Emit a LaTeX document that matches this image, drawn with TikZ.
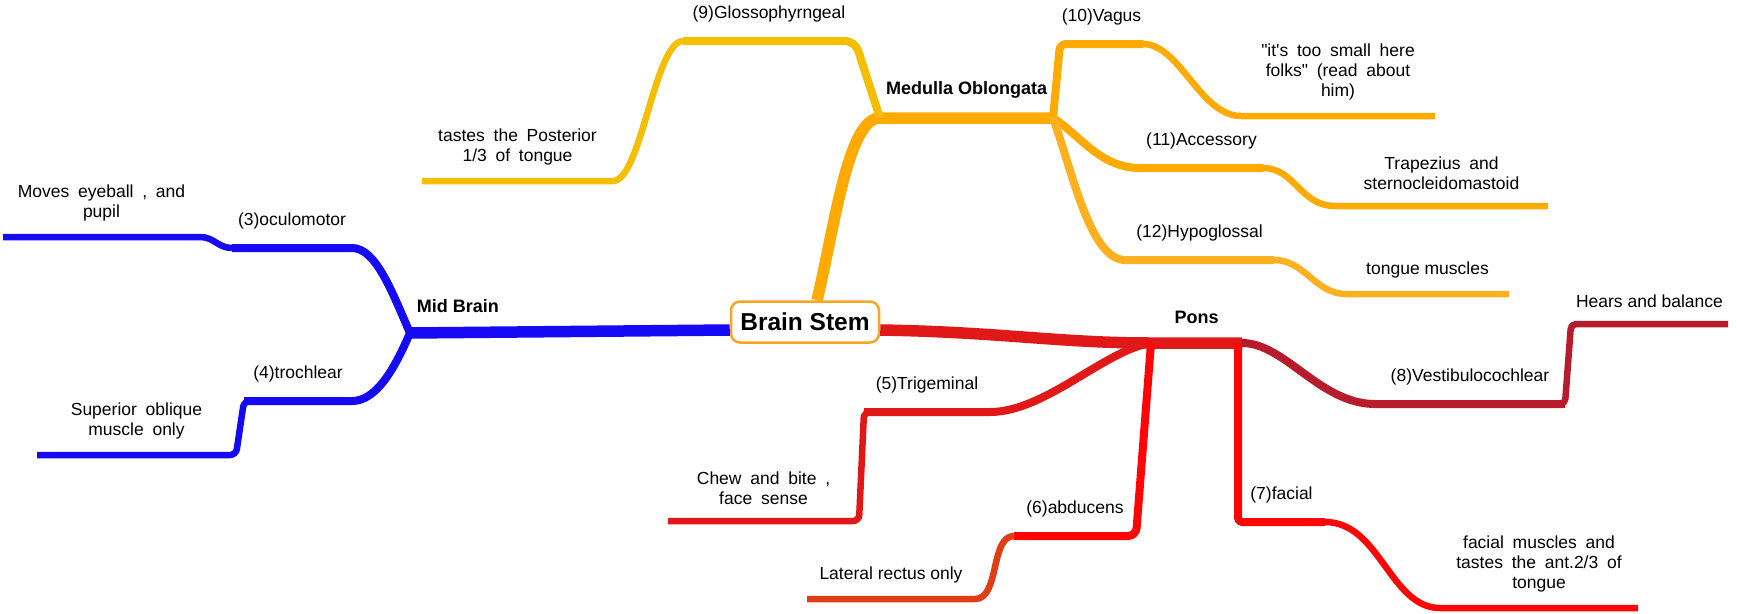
\documentclass[tikz,border=0pt]{standalone}
\usepackage{fontspec}
\setmainfont{Liberation Sans}[Ligatures=TeXOff]
\usetikzlibrary{positioning,calc}

\definecolor{mbblue}{RGB}{22,10,245}
\definecolor{mdorange}{RGB}{255,170,0}
\definecolor{glyellow}{RGB}{245,190,0}
\definecolor{hyorange}{RGB}{255,176,30}
\definecolor{ponsred}{RGB}{224,24,24}
\definecolor{brightred}{RGB}{255,5,5}
\definecolor{rustred}{RGB}{224,60,22}
\definecolor{darkred}{RGB}{183,28,44}
\definecolor{boxorange}{RGB}{245,166,35}

\newcommand{\widespace}{\spaceskip=0.5em plus 0.1em\relax}

\begin{document}
\begin{tikzpicture}[x=1pt, y=-1pt,
    stem/.style={rectangle, draw=boxorange, line width=2.5pt, rounded corners=9pt, fill=white,
        minimum width=148pt, minimum height=41pt, inner sep=4pt, font=\fontsize{24.5}{28}\selectfont\bfseries},
    main/.style={line width=11.5pt, line join=round},
    branch/.style={line width=8pt, line join=round},
    leaf/.style={line width=6.5pt, line join=round},
    lbl/.style={text=black, font=\fontsize{17.5}{20}\selectfont, inner sep=2pt, above=13pt},
    note/.style={text=black, font=\fontsize{17.5}{20}\selectfont, inner sep=2pt, align=center, above=11pt},
    wide/.style={note, execute at begin node=\widespace},
    part/.style={text=black, font=\fontsize{18}{21}\selectfont\bfseries, inner sep=2pt, above=12pt}
]
    \useasboundingbox (0,0) rectangle (1737,613);

    \node[stem] (stem) at (805,322) {Brain Stem};

    % mid brain
    \coordinate (mb) at (410,333);
    \coordinate (oc1) at (352,248);
    \coordinate (oc0) at (232,248);
    \coordinate (mv1) at (200,237);
    \coordinate (mv0) at (3,237);
    \coordinate (tr1) at (352,401);
    \coordinate (tr0) at (244,401);
    \coordinate (so1) at (236,455);
    \coordinate (so0) at (37,455);

    \draw[main, mbblue] (mb) -- node[part, pos=0.15] (mbl) {Mid Brain} ($(stem.west)+(0,8)$);
    \draw[branch, mbblue] (mb) .. controls (392,292) and (376,248) .. (oc1)
        -- node[lbl] (ocl) {(3)oculomotor} (oc0);
    \draw[leaf, mbblue] (oc0) .. controls (218,248) and (214,237) .. (mv1)
        -- node[wide] (mvl) {Moves eyeball , and\\pupil} (mv0);
    \draw[branch, mbblue] (mb) .. controls (394,370) and (376,401) .. (tr1)
        -- node[lbl] (trl) {(4)trochlear} (tr0);
    \draw[leaf, mbblue, rounded corners=6pt] ($(tr0)+(8,0)$) -- (tr0) -- (so1)
        -- node[wide] (sol) {Superior oblique\\muscle only} (so0);

    % pons
    \coordinate (pn) at (1151,343);
    \coordinate (pr) at (1242,343);
    \coordinate (tg1) at (990,412);
    \coordinate (tg0) at (864,412);
    \coordinate (cb1) at (859,521);
    \coordinate (cb0) at (668,521);
    \coordinate (ab1) at (1136,536);
    \coordinate (ab0) at (1014,536);
    \coordinate (lr1) at (975,599);
    \coordinate (lr0) at (807,599);
    \coordinate (fc1) at (1238,522);
    \coordinate (fc2) at (1325,522);
    \coordinate (fm1) at (1440,608);
    \coordinate (fm0) at (1638,608);
    \coordinate (vs0) at (1375,404);
    \coordinate (vs1) at (1565,404);
    \coordinate (hb1) at (1571,324);
    \coordinate (hb0) at (1728,324);

    \draw[main, ponsred] ($(stem.east)+(0,8)$) .. controls (1000,332) and (1060,343) .. (pn)
        -- node[part] (pnl) {Pons} (pr);
    \draw[branch, ponsred] (pn) .. controls (1105,350) and (1045,412) .. (tg1)
        -- node[lbl] (tgl) {(5)Trigeminal} (tg0);
    \draw[leaf, ponsred, rounded corners=6pt] ($(tg0)+(8,0)$) -- (tg0) -- (cb1)
        -- node[wide] (cbl) {Chew and bite ,\\face sense} (cb0);
    \draw[branch, brightred, rounded corners=8pt] (pn) -- (ab1)
        -- node[lbl] (abl) {(6)abducens} (ab0);
    \draw[leaf, rustred] (ab0) .. controls (990,536) and (1000,599) .. (lr1)
        -- node[note] (lrl) {Lateral rectus only} (lr0);
    \draw[branch, brightred, rounded corners=4pt] (fc1 |- pn) -- (fc1)
        -- node[lbl] (fcl) {(7)facial} (fc2);
    \draw[leaf, brightred] (fc2) .. controls (1380,522) and (1390,608) .. (fm1)
        -- node[wide] (fml) {facial muscles and\\tastes the ant.2/3 of\\tongue} (fm0);
    \draw[branch, darkred] (pr) .. controls (1285,343) and (1320,404) .. (vs0)
        -- node[lbl] (vsl) {(8)Vestibulocochlear} (vs1);
    \draw[leaf, darkred, rounded corners=5pt] ($(vs1)+(-8,0)$) -- (vs1) -- (hb1)
        -- node[note] (hbl) {Hears and balance} (hb0);

    % medulla oblongata
    \coordinate (md0) at (880,118);
    \coordinate (md1) at (1053,118);
    \coordinate (gl1) at (855,41);
    \coordinate (gl0) at (683,41);
    \coordinate (tp1) at (613,181);
    \coordinate (tp0) at (422,181);
    \coordinate (va0) at (1060,44);
    \coordinate (va1) at (1143,44);
    \coordinate (it1) at (1241,116);
    \coordinate (it0) at (1435,116);
    \coordinate (ac0) at (1140,168);
    \coordinate (ac1) at (1263,168);
    \coordinate (tz1) at (1335,206);
    \coordinate (tz0) at (1548,206);
    \coordinate (hy0) at (1125,260);
    \coordinate (hy1) at (1274,260);
    \coordinate (tm1) at (1346,294);
    \coordinate (tm0) at (1509,294);

    \draw[main, mdorange] ($(stem.north)+(12,0)$) .. controls (835,225) and (848,118) .. (md0)
        -- node[part] (mdl) {Medulla Oblongata} (md1);
    \draw[branch, glyellow, rounded corners=10pt] (md0) -- (gl1)
        -- node[lbl] (gll) {(9)Glossophyrngeal} (gl0);
    \draw[leaf, glyellow] (gl0) .. controls (655,41) and (641,181) .. (tp1)
        -- node[wide] (tpl) {tastes the Posterior\\1/3 of tongue} (tp0);
    \draw[branch, mdorange, rounded corners=6pt] (md1) -- (va0)
        -- node[lbl] (val) {(10)Vagus} (va1);
    \draw[leaf, mdorange] (va1) .. controls (1180,44) and (1200,116) .. (it1)
        -- node[wide] (itl) {"it's too small here\\folks" (read about\\him)} (it0);
    \draw[branch, mdorange] (md1) .. controls (1080,135) and (1100,168) .. (ac0)
        -- node[lbl] (acl) {(11)Accessory} (ac1);
    \draw[leaf, mdorange] (ac1) .. controls (1295,168) and (1300,206) .. (tz1)
        -- node[wide] (tzl) {Trapezius and\\sternocleidomastoid} (tz0);
    \draw[branch, hyorange] (md1) .. controls (1072,170) and (1090,260) .. (hy0)
        -- node[lbl] (hyl) {(12)Hypoglossal} (hy1);
    \draw[leaf, hyorange] (hy1) .. controls (1305,260) and (1315,294) .. (tm1)
        -- node[note] (tml) {tongue muscles} (tm0);
\end{tikzpicture}
\end{document}
